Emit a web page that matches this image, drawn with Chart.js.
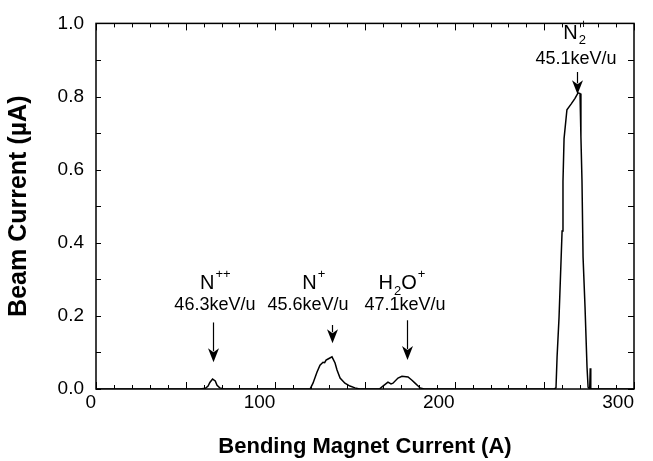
<!DOCTYPE html>
<html><head><meta charset="utf-8">
<script src="https://cdn.jsdelivr.net/npm/chart.js@4.4.1/dist/chart.umd.min.js"></script>
<style>html,body{margin:0;padding:0;background:#fff}</style>
</head><body>
<canvas id="c" width="653" height="461"></canvas>
<script>
// ---- data ----
const magnetCurrentA = [0, 30, 58, 61, 62.5, 63.5, 65, 66.5, 67.5, 69, 71, 100, 119.5, 121, 123.2, 124.9, 126.6, 127.5, 128.3, 129.4, 131.6, 133.3, 134.4, 136.1, 138.8, 141.6, 144.4, 147, 158, 160, 162.8, 164.5, 165.6, 168.4, 170.6, 174, 176.2, 177.9, 179.6, 180.7, 183, 220, 255.5, 256.5, 257.1, 258.2, 259.9, 260.4, 261, 262.6, 265, 267.1, 268.8, 269.9, 270.4, 271, 271.6, 272.7, 273.8, 274.4, 275.3, 275.6, 275.9, 300];
const beamCurrentUA = [0, 0, 0, 0.002, 0.008, 0.018, 0.027, 0.022, 0.010, 0.003, 0.001, 0, 0.001, 0.016, 0.046, 0.065, 0.073, 0.072, 0.079, 0.082, 0.088, 0.071, 0.052, 0.030, 0.016, 0.008, 0.003, 0, 0, 0.008, 0.019, 0.014, 0.016, 0.030, 0.035, 0.033, 0.024, 0.016, 0.008, 0.003, 0, 0, 0, 0.003, 0.087, 0.196, 0.432, 0.568, 0.685, 0.764, 0.780, 0.795, 0.810, 0.808, 0.690, 0.568, 0.360, 0.223, 0.060, 0.005, 0, 0.057, 0, 0];
const xTickValues = [0, 100, 200, 300];
const yTickValues = [0.0, 0.2, 0.4, 0.6, 0.8, 1.0];
const ionLabels = ['N^{++}', 'N^{+}', 'H_{2}O^{+}', 'N_{2}^{+}'];
const energyLabels = ['46.3keV/u', '45.6keV/u', '47.1keV/u', '45.1keV/u'];
const peakPositionsA = [65.2, 131.6, 173.4, 268.0];

// ---- annotation placement (data coordinates) ----
const annotationLayout = [
  {labelX: 66.5, labelY: 0.288, energyX: 66.3, energyY: 0.231, arrowTop: 0.182, arrowTip: 0.073},
  {labelX: 121.5, labelY: 0.288, energyX: 118.2, energyY: 0.231, arrowTop: 0.175, arrowTip: 0.125},
  {labelX: 170.6, labelY: 0.288, energyX: 172.3, energyY: 0.231, arrowTop: 0.188, arrowTip: 0.079},
  {labelX: 267.0, labelY: 0.973, energyX: 267.7, energyY: 0.902, arrowTop: 0.867, arrowTip: 0.806}
];

const points = magnetCurrentA.map((x, i) => ({x, y: beamCurrentUA[i]}));
const FONT = "'Liberation Sans', Arial, Helvetica, sans-serif";

function drawRich(ctx, text, cx, cy, size) {
  const parts = [];
  const re = /([_^])\{([^}]*)\}|([^_^]+)/g;
  let m;
  while ((m = re.exec(text))) {
    if (m[3]) parts.push({t: m[3], k: 'n'});
    else parts.push({t: m[2], k: m[1] === '^' ? 'sup' : 'sub'});
  }
  const small = Math.round(size * 0.66);
  const widths = parts.map(p => {
    ctx.font = (p.k === 'n' ? size : small) + 'px ' + FONT;
    return ctx.measureText(p.t).width;
  });
  let total = 0;
  for (let i = 0; i < parts.length; i++) {
    if (parts[i].k === 'sup' && i > 0 && parts[i - 1].k === 'sub') {
      total += Math.max(0, widths[i] - widths[i - 1]);
    } else total += widths[i] + (parts[i].k !== 'n' ? 1 : 0);
  }
  let x = cx - total / 2;
  ctx.textBaseline = 'middle';
  ctx.textAlign = 'left';
  ctx.fillStyle = '#000';
  for (let i = 0; i < parts.length; i++) {
    const p = parts[i];
    if (p.k === 'n') {
      ctx.font = size + 'px ' + FONT;
      ctx.fillText(p.t, x, cy);
      x += widths[i];
    } else {
      ctx.font = small + 'px ' + FONT;
      let px = x + 1;
      if (p.k === 'sup' && i > 0 && parts[i - 1].k === 'sub') px = x - widths[i - 1] + 1;
      const dy = p.k === 'sup' ? -size * 0.45 : size * 0.38;
      ctx.fillText(p.t, px, cy + dy);
      x = Math.max(x, px + widths[i]);
    }
  }
}

const framePlugin = {
  id: 'frameTicks',
  afterDatasetsDraw(chart) {
    const {ctx, chartArea: a, scales: {x, y}} = chart;
    ctx.save();
    ctx.strokeStyle = '#000';
    ctx.lineWidth = 1.5;
    ctx.strokeRect(a.left, a.top, a.right - a.left, a.bottom - a.top);
    ctx.lineWidth = 1;
    ctx.beginPath();
    for (let v = 0; v <= 300; v += 10) {
      const px = Math.round(x.getPixelForValue(v)) + 0.5;
      const len = v % 50 === 0 ? 7 : 4;
      ctx.moveTo(px, a.bottom); ctx.lineTo(px, a.bottom - len);
      ctx.moveTo(px, a.top); ctx.lineTo(px, a.top + len);
    }
    for (let k = 0; k <= 10; k++) {
      const py = Math.round(y.getPixelForValue(k / 10)) + 0.5;
      ctx.moveTo(a.left, py); ctx.lineTo(a.left + 5, py);
      ctx.moveTo(a.right, py); ctx.lineTo(a.right - 6, py);
    }
    ctx.stroke();

    annotationLayout.forEach((L, i) => {
      drawRich(ctx, ionLabels[i], x.getPixelForValue(L.labelX), y.getPixelForValue(L.labelY), 20);
      ctx.font = '18px ' + FONT;
      ctx.textAlign = 'center';
      ctx.textBaseline = 'middle';
      ctx.fillStyle = '#000';
      ctx.fillText(energyLabels[i], x.getPixelForValue(L.energyX), y.getPixelForValue(L.energyY));
      const ax = Math.round(x.getPixelForValue(peakPositionsA[i])) + 0.5;
      const top = y.getPixelForValue(L.arrowTop);
      const tip = y.getPixelForValue(L.arrowTip);
      const hl = 14, hw = 5.5;
      ctx.lineWidth = 1.2;
      ctx.beginPath();
      ctx.moveTo(ax, top); ctx.lineTo(ax, tip - hl + 3);
      ctx.stroke();
      ctx.beginPath();
      ctx.moveTo(ax, tip);
      ctx.lineTo(ax - hw, tip - hl);
      ctx.lineTo(ax, tip - hl + 4);
      ctx.lineTo(ax + hw, tip - hl);
      ctx.closePath();
      ctx.fill();
    });
    ctx.restore();
  }
};

new Chart(document.getElementById('c'), {
  type: 'line',
  data: {
    datasets: [{
      data: points,
      borderColor: '#000',
      borderWidth: 1.5,
      pointRadius: 0,
      tension: 0,
      fill: false
    }]
  },
  options: {
    responsive: false,
    devicePixelRatio: 1,
    animation: false,
    layout: {padding: {top: 21, right: 19, left: 0, bottom: 0}},
    plugins: {legend: {display: false}, tooltip: {enabled: false}},
    scales: {
      x: {
        type: 'linear', min: 0, max: 300,
        grid: {display: false, drawTicks: false},
        border: {display: false},
        afterBuildTicks: s => { s.ticks = xTickValues.map(v => ({value: v})); },
        afterFit: s => { s.height = 72; },
        ticks: {
          align: 'end', padding: 2, color: '#000',
          font: {family: FONT, size: 19},
          callback: v => String(v)
        },
        title: {
          display: true, text: 'Bending Magnet Current (A)', color: '#000',
          font: {family: FONT, size: 22, weight: 'bold'},
          padding: {top: 0, bottom: 1}
        }
      },
      y: {
        type: 'linear', min: 0, max: 1,
        grid: {display: false, drawTicks: false},
        border: {display: false},
        afterBuildTicks: s => { s.ticks = yTickValues.map(v => ({value: v})); },
        afterFit: s => { s.width = 96; },
        ticks: {
          padding: 12, color: '#000',
          font: {family: FONT, size: 19},
          callback: v => Number(v).toFixed(1)
        },
        title: {
          display: true, text: 'Beam Current (µA)', color: '#000',
          font: {family: FONT, size: 25, weight: 'bold'},
          padding: {top: 4, bottom: 0}
        }
      }
    }
  },
  plugins: [framePlugin]
});
</script>
</body></html>
